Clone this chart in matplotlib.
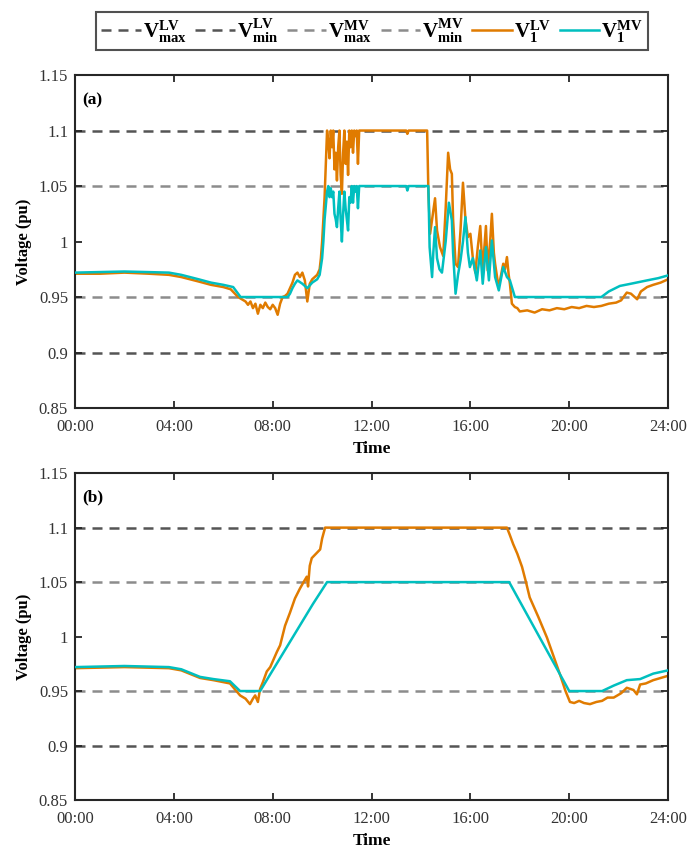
import matplotlib
matplotlib.use("Agg")
import matplotlib.pyplot as plt
from matplotlib.lines import Line2D

plt.rcParams['font.family'] = ['Liberation Serif', 'DejaVu Serif']
plt.rcParams['mathtext.fontset'] = 'custom'
plt.rcParams['mathtext.rm'] = 'Liberation Serif'
plt.rcParams['mathtext.bf'] = 'Liberation Serif:bold'
plt.rcParams['mathtext.it'] = 'Liberation Serif:italic'

# ---------------- data ----------------
limits = {'lv_max': 1.10, 'lv_min': 0.90, 'mv_max': 1.05, 'mv_min': 0.95}

# Panel (a)
t_a_lv = [0, 1, 2, 3, 3.8, 4.3, 5, 5.5, 6.0, 6.3, 6.6, 6.9, 7.0, 7.1, 7.2, 7.3, 7.4, 7.5, 7.6, 7.7,
          7.8, 7.9, 8.0, 8.1, 8.2, 8.3, 8.4, 8.5, 8.6, 8.7, 8.8, 8.9, 9.0, 9.1, 9.2, 9.3, 9.4, 9.5,
          9.6, 9.7, 9.8, 9.9, 9.95, 10.0, 10.05, 10.1, 10.15, 10.2, 10.25, 10.3, 10.35, 10.4, 10.45,
          10.5, 10.55, 10.6, 10.65, 10.7, 10.75, 10.8, 10.85, 10.9, 10.95, 11.0, 11.05, 11.1, 11.15,
          11.2, 11.25, 11.3, 11.35, 11.4, 11.45, 11.5, 13.4, 13.45, 13.5, 14.25, 14.3, 14.37, 14.45,
          14.57, 14.65, 14.77, 14.9, 15.0, 15.1, 15.18, 15.25, 15.3, 15.4, 15.5, 15.6, 15.7, 15.8,
          15.9, 16.0, 16.1, 16.2, 16.3, 16.4, 16.5, 16.55, 16.63, 16.7, 16.8, 16.87, 16.95, 17.0,
          17.12, 17.2, 17.33, 17.4, 17.48, 17.55, 17.6, 17.68, 17.8, 17.9, 18.0, 18.3, 18.6, 18.9,
          19.2, 19.5, 19.8, 20.1, 20.4, 20.7, 21.0, 21.3, 21.6, 21.9, 22.1, 22.33, 22.5, 22.75,
          22.9, 23.15, 23.4, 23.7, 24.0]
v_a_lv = [0.971, 0.971, 0.972, 0.971, 0.970, 0.968, 0.964, 0.961, 0.959, 0.957, 0.950, 0.946, 0.943,
          0.946, 0.940, 0.944, 0.935, 0.943, 0.940, 0.945, 0.941, 0.939, 0.943, 0.940, 0.934, 0.944,
          0.950, 0.951, 0.953, 0.958, 0.963, 0.970, 0.972, 0.968, 0.972, 0.965, 0.946, 0.962, 0.966,
          0.968, 0.970, 0.975, 0.985, 1.000, 1.020, 1.040, 1.070, 1.100, 1.090, 1.075, 1.100, 1.085,
          1.100, 1.065, 1.080, 1.055, 1.085, 1.100, 1.060, 1.043, 1.080, 1.100, 1.070, 1.090, 1.060,
          1.100, 1.085, 1.100, 1.080, 1.100, 1.095, 1.100, 1.070, 1.100, 1.100, 1.097, 1.100, 1.100,
          1.045, 1.007, 1.020, 1.039, 1.010, 0.995, 0.987, 1.030, 1.080, 1.065, 1.061, 1.020, 0.980,
          0.977, 1.010, 1.053, 1.020, 1.004, 1.007, 0.985, 0.972, 0.995, 1.014, 0.971, 0.990, 1.014,
          0.974, 1.000, 1.025, 0.990, 0.980, 0.962, 0.965, 0.980, 0.975, 0.986, 0.970, 0.962, 0.944,
          0.941, 0.940, 0.937, 0.938, 0.936, 0.939, 0.938, 0.940, 0.939, 0.941, 0.940, 0.942, 0.941,
          0.942, 0.944, 0.945, 0.947, 0.954, 0.953, 0.948, 0.955, 0.959, 0.961, 0.963, 0.966]

t_a_mv = [0, 2, 3.8, 4.3, 5, 5.5, 6.0, 6.4, 6.7, 8.6, 8.7, 8.8, 8.9, 9.0, 9.2, 9.4, 9.6, 9.8, 9.9,
          10.0, 10.05, 10.1, 10.2, 10.25, 10.3, 10.35, 10.4, 10.45, 10.5, 10.55, 10.6, 10.65, 10.7,
          10.75, 10.8, 10.85, 10.9, 10.95, 11.0, 11.05, 11.1, 11.15, 11.2, 11.25, 11.3, 11.35, 11.4,
          11.45, 11.5, 13.4, 13.45, 13.5, 14.3, 14.35, 14.45, 14.5, 14.57, 14.65, 14.75, 14.85, 15.0,
          15.13, 15.25, 15.3, 15.4, 15.5, 15.6, 15.7, 15.8, 15.9, 15.98, 16.1, 16.26, 16.4, 16.5,
          16.63, 16.75, 16.87, 17.0, 17.15, 17.33, 17.48, 17.6, 17.68, 17.8, 21.3, 21.6, 22.05, 22.5,
          23.15, 23.6, 24.0]
v_a_mv = [0.972, 0.973, 0.972, 0.970, 0.966, 0.963, 0.961, 0.959, 0.950, 0.950, 0.953, 0.958, 0.962,
          0.965, 0.962, 0.958, 0.963, 0.966, 0.970, 0.985, 1.000, 1.020, 1.045, 1.050, 1.040, 1.048,
          1.040, 1.045, 1.025, 1.020, 1.013, 1.030, 1.045, 1.020, 1.000, 1.025, 1.045, 1.030, 1.020,
          1.010, 1.040, 1.035, 1.050, 1.035, 1.050, 1.045, 1.050, 1.030, 1.050, 1.050, 1.046, 1.050,
          1.050, 0.995, 0.968, 0.990, 1.013, 0.985, 0.975, 0.972, 1.000, 1.035, 1.019, 0.990, 0.953,
          0.970, 0.983, 1.000, 1.022, 0.990, 0.977, 0.985, 0.965, 0.992, 0.962, 0.995, 0.965, 1.001,
          0.968, 0.956, 0.977, 0.968, 0.965, 0.959, 0.950, 0.950, 0.955, 0.960, 0.962, 0.965, 0.967,
          0.9695]

# Panel (b)
t_b_lv = [0, 2, 3.8, 4.3, 5.06, 5.6, 6.27, 6.68, 6.9, 7.08, 7.2, 7.29, 7.4, 7.49, 7.6, 7.76, 7.9,
          8.17, 8.3, 8.5, 8.7, 8.9, 9.1, 9.25, 9.38, 9.43, 9.5, 9.58, 9.75, 9.92, 10.0, 10.12, 17.48,
          17.6, 17.73, 17.9, 18.09, 18.25, 18.4, 18.75, 19.1, 19.35, 19.63, 19.85, 20.03, 20.2, 20.4,
          20.6, 20.84, 21.1, 21.33, 21.55, 21.8, 22.1, 22.33, 22.6, 22.74, 22.87, 23.1, 23.4, 23.7,
          24.0]
v_b_lv = [0.971, 0.972, 0.971, 0.969, 0.962, 0.960, 0.957, 0.946, 0.943, 0.938, 0.943, 0.946, 0.940,
          0.952, 0.958, 0.968, 0.972, 0.986, 0.992, 1.010, 1.022, 1.035, 1.044, 1.050, 1.055, 1.046,
          1.065, 1.072, 1.076, 1.080, 1.090, 1.100, 1.100, 1.093, 1.085, 1.076, 1.064, 1.050, 1.036,
          1.018, 0.999, 0.983, 0.965, 0.950, 0.940, 0.939, 0.941, 0.939, 0.938, 0.940, 0.941, 0.944,
          0.944, 0.948, 0.953, 0.951, 0.947, 0.956, 0.957, 0.960, 0.962, 0.964]

t_b_mv = [0, 2, 3.8, 4.3, 5.06, 5.6, 6.27, 6.68, 7.49, 9.63, 10.2, 17.57, 20.0, 21.33, 21.8, 22.33,
          22.87, 23.4, 24.0]
v_b_mv = [0.972, 0.973, 0.972, 0.970, 0.963, 0.961, 0.959, 0.950, 0.950, 1.030, 1.050, 1.050, 0.950,
          0.950, 0.955, 0.960, 0.961, 0.966, 0.969]

y_ticks = [0.85, 0.9, 0.95, 1.0, 1.05, 1.1, 1.15]
y_tick_labels = ['0.85', '0.9', '0.95', '1', '1.05', '1.1', '1.15']
x_ticks = [0, 4, 8, 12, 16, 20, 24]
x_tick_labels = ['00:00', '04:00', '08:00', '12:00', '16:00', '20:00', '24:00']

legend_labels = [r'$\mathbf{V}_{\mathbf{max}}^{\mathbf{LV}}$', r'$\mathbf{V}_{\mathbf{min}}^{\mathbf{LV}}$',
                 r'$\mathbf{V}_{\mathbf{max}}^{\mathbf{MV}}$', r'$\mathbf{V}_{\mathbf{min}}^{\mathbf{MV}}$',
                 r'$\mathbf{V}_{\mathbf{1}}^{\mathbf{LV}}$', r'$\mathbf{V}_{\mathbf{1}}^{\mathbf{MV}}$']

# ---------------- style ----------------
C_LV = '#E07B00'
C_MV = '#00BFBF'
C_LVLIM = '#555555'
C_MVLIM = '#8C8C8C'
DASH = (4, 2.8)
LW_LIM = 1.8
LW = 1.8
SPINE = '#262626'

fig = plt.figure(figsize=(6.89, 8.49), dpi=100)
ax_a = fig.add_axes([0.1089, 0.5194, 0.8607, 0.3922])
ax_b = fig.add_axes([0.1089, 0.0577, 0.8607, 0.3850])

panels = [(ax_a, '(a)', t_a_lv, v_a_lv, t_a_mv, v_a_mv),
          (ax_b, '(b)', t_b_lv, v_b_lv, t_b_mv, v_b_mv)]

for ax, tag, tl, vl, tm, vm in panels:
    ax.axhline(limits['lv_max'], color=C_LVLIM, lw=LW_LIM, dashes=DASH, zorder=1)
    ax.axhline(limits['lv_min'], color=C_LVLIM, lw=LW_LIM, dashes=DASH, zorder=1)
    ax.axhline(limits['mv_max'], color=C_MVLIM, lw=LW_LIM, dashes=DASH, zorder=1)
    ax.axhline(limits['mv_min'], color=C_MVLIM, lw=LW_LIM, dashes=DASH, zorder=1)
    ax.plot(tl, vl, color=C_LV, lw=LW, zorder=2)
    ax.plot(tm, vm, color=C_MV, lw=LW, zorder=3)
    ax.set_xlim(0, 24)
    ax.set_ylim(0.85, 1.15)
    ax.set_xticks(x_ticks)
    ax.set_xticklabels(x_tick_labels)
    ax.set_yticks(y_ticks)
    ax.set_yticklabels(y_tick_labels)
    ax.tick_params(direction='in', length=5, width=1.3, top=True, right=True,
                   labelsize=12, colors=SPINE, labelcolor='#333333')
    ax.tick_params(axis='x', pad=8)
    ax.tick_params(axis='y', pad=5)
    for s in ax.spines.values():
        s.set_linewidth(1.5)
        s.set_color(SPINE)
    ax.set_xlabel('Time', fontsize=12.5, fontweight='bold', labelpad=4)
    ax.set_ylabel('Voltage (pu)', fontsize=12, fontweight='bold', labelpad=5)
    ax.text(0.012, 0.925, tag, transform=ax.transAxes, fontsize=12.5, fontweight='bold',
            ha='left', va='center')

handles = [Line2D([], [], color=C_LVLIM, lw=LW_LIM, dashes=DASH),
           Line2D([], [], color=C_LVLIM, lw=LW_LIM, dashes=DASH),
           Line2D([], [], color=C_MVLIM, lw=LW_LIM, dashes=DASH),
           Line2D([], [], color=C_MVLIM, lw=LW_LIM, dashes=DASH),
           Line2D([], [], color=C_LV, lw=LW),
           Line2D([], [], color=C_MV, lw=LW)]
leg = fig.legend(handles, legend_labels, loc='center', bbox_to_anchor=(0.54, 0.9635), ncol=6,
                 fontsize=15, frameon=True, fancybox=False, handlelength=1.9, handletextpad=0.1,
                 columnspacing=0.4, borderpad=0.25, borderaxespad=0)
leg.get_frame().set_edgecolor(SPINE)
leg.get_frame().set_linewidth(1.5)

fig.savefig('out.png', dpi=100)
